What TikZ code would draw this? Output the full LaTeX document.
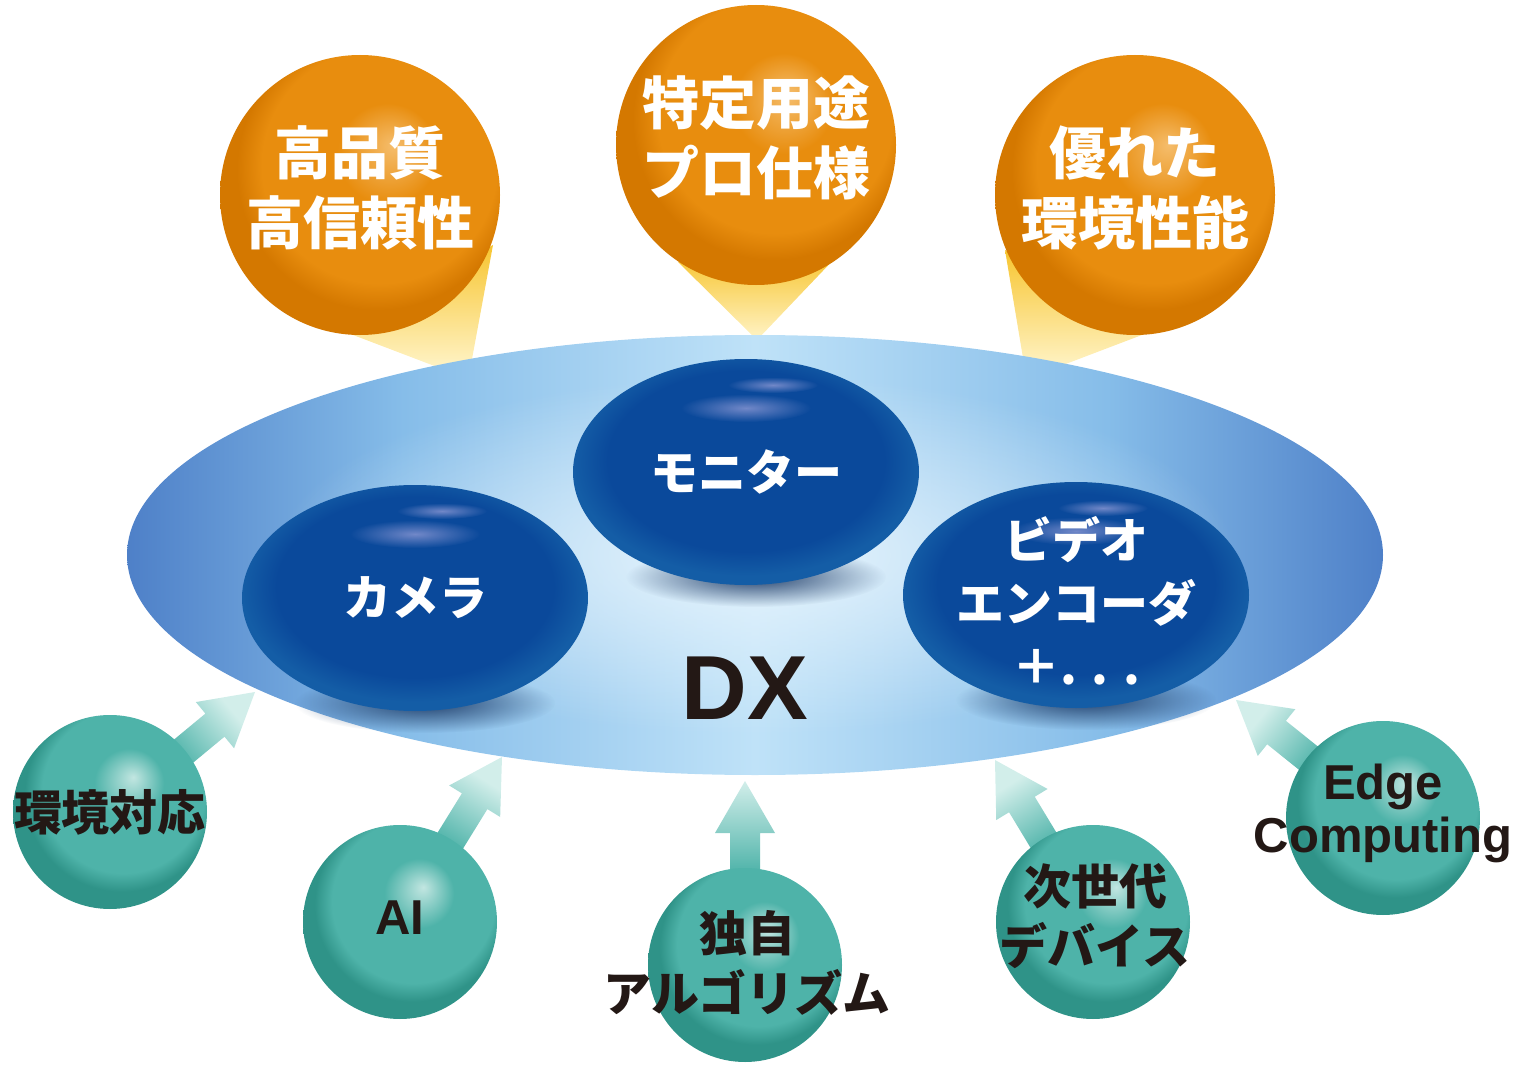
\documentclass[tikz,border=0pt]{standalone}
\usepackage{fontspec}
\usetikzlibrary{calc}
\usetikzlibrary{fadings}
\newfontfamily\jpfont{Noto Sans CJK JP}
\newfontfamily\enfont{Liberation Sans}
\def\OrangeRadius{140}
\def\BallRadius{97}
\def\PodXRadius{173}
\def\PodYRadius{113}
\def\DiskXRadius{628}
\def\DiskYRadius{220}

\definecolor{OrangeBody}{HTML}{E88D0E}
\definecolor{OrangeLight}{HTML}{F5BD6C}
\definecolor{OrangeEdge}{HTML}{D47800}
\definecolor{BeamDeep}{HTML}{F7C530}
\definecolor{BeamPale}{HTML}{FFF4C8}
\definecolor{DiskEnd}{HTML}{4E80C8}
\definecolor{DiskMid}{HTML}{86BDE9}
\definecolor{DiskCenter}{HTML}{BFE2F8}
\definecolor{DiskGlow}{HTML}{E6F4FD}
\definecolor{PodBody}{HTML}{0A499B}
\definecolor{PodRim}{HTML}{145DA6}
\definecolor{PodShine}{HTML}{8C98D4}
\definecolor{PodShadow}{HTML}{22406C}
\definecolor{TealBody}{HTML}{4EB3A9}
\definecolor{TealLight}{HTML}{C2E6E1}
\definecolor{TealEdge}{HTML}{2F9388}
\definecolor{ArrowTip}{HTML}{D2EEEA}
\definecolor{Ink}{HTML}{231815}

\pgfdeclareradialshading{orangeball}{\pgfpoint{6bp}{9bp}}{color(0bp)=(OrangeLight); color(9bp)=(OrangeBody); color(21bp)=(OrangeBody); color(25bp)=(OrangeEdge); color(50bp)=(OrangeEdge)}
\pgfdeclareradialshading{tealball}{\pgfpoint{6bp}{9bp}}{color(0bp)=(TealLight); color(9bp)=(TealBody); color(21bp)=(TealBody); color(25bp)=(TealEdge); color(50bp)=(TealEdge)}
\pgfdeclareradialshading{podshade}{\pgfpoint{0bp}{4bp}}{color(0bp)=(PodBody); color(20bp)=(PodBody); color(25bp)=(PodRim); color(50bp)=(PodRim)}
\pgfdeclarehorizontalshading{diskshade}{100bp}{color(0bp)=(DiskEnd); color(25bp)=(DiskEnd); color(36bp)=(DiskMid); color(50bp)=(DiskCenter); color(64bp)=(DiskMid); color(75bp)=(DiskEnd); color(100bp)=(DiskEnd)}
\tikzfading[name=soft blob, inner color=transparent!0, outer color=transparent!100]

\begin{document}
\begin{tikzpicture}[x=0.5pt,y=-0.5pt,
  orange label/.style={font=\jpfont\bfseries\fontsize{28.5}{35}\selectfont, text=white, align=center},
  pod label/.style={font=\jpfont\bfseries\fontsize{24}{31.5}\selectfont, text=white, align=center},
  ball label/.style={font=\jpfont\bfseries\fontsize{24}{30}\selectfont, text=Ink, align=center},
  ball latin/.style={font=\enfont\bfseries\fontsize{24.5}{26.5}\selectfont, text=Ink, align=center},
  beam/.style={top color=BeamDeep, bottom color=BeamPale},
  push/.style={top color=ArrowTip, bottom color=TealBody, middle color=TealBody}]
  \useasboundingbox (0,0) rectangle (1517,1065);
  \coordinate (O) at (755,555);
  \coordinate (Q1) at (360,195);
  \coordinate (Q2) at (756,145);
  \coordinate (Q3) at (1135,195);
  \coordinate (P1) at (415,598);
  \coordinate (P2) at (746,472);
  \coordinate (P3) at (1076,595);
  \coordinate (B1) at (110,812);
  \coordinate (B2) at (400,922);
  \coordinate (B3) at (745,965);
  \coordinate (B4) at (1093,922);
  \coordinate (B5) at (1383,818);
  \coordinate (T1) at (255,692);
  \coordinate (T2) at (502,757);
  \coordinate (T3) at (745,781);
  \coordinate (T4) at (995,760);
  \coordinate (T5) at (1236,700);
  % beams
  \shade[beam] (340,330) -- (445,370) -- (470,370) -- (493,245) -- cycle;
  \shade[beam] (678,262) -- (757,340) -- (838,255) -- cycle;
  \shade[beam] (1155,330) -- (1050,370) -- (1025,370) -- (1005,250) -- cycle;
  % disk
  \shade[shading=diskshade] (O) ellipse [x radius=\DiskXRadius, y radius=\DiskYRadius];
  \fill[DiskGlow, path fading=soft blob] (O) ellipse [x radius=480, y radius=180];
  % orange circles
  \foreach \q in {1,2,3}
    \shade[shading=orangeball] (Q\q) circle (\OrangeRadius);
  % pods
  \foreach \p in {1,2,3}
    {
      % shadow
      \fill[PodShadow, path fading=soft blob] ($(P\p)+(10,105)$) ellipse [x radius=130, y radius=30];
      \shade[shading=podshade] (P\p) ellipse [x radius=\PodXRadius, y radius=\PodYRadius];
      % shine
      \fill[PodShine, opacity=.8, path fading=soft blob] ($(P\p)+(27,-87)$) ellipse [x radius=45, y radius=8];
      \fill[PodShine, opacity=.8, path fading=soft blob] ($(P\p)+(0,-64)$) ellipse [x radius=65, y radius=14];
    }
  % arrows
  \foreach \i/\ang in {1/-50,2/-32,3/0,4/32,5/51}
    {
      \coordinate (H\i) at ($(T\i)!26pt!(B\i)$);
      \shade[push, shading angle=\ang] ($(B\i)!7.5pt!90:(T\i)$) -- ($(H\i)!7.5pt!90:(T\i)$)
        -- ($(H\i)!15pt!90:(T\i)$) -- (T\i) -- ($(H\i)!15pt!-90:(T\i)$)
        -- ($(H\i)!7.5pt!-90:(T\i)$) -- ($(B\i)!7.5pt!-90:(T\i)$) -- cycle;
    }
  % spheres
  \foreach \i in {1,...,5}
    \shade[shading=tealball] (B\i) circle (\BallRadius);
  % labels
  \node[orange label] (quality) at (360,188) {高品質\\高信頼性};
  \node[orange label] (purpose) at (756,138) {特定用途\\プロ仕様};
  \node[orange label] (climate) at (1135,188) {優れた\\環境性能};
  \node[pod label] (camera) at (P1) {カメラ};
  \node[pod label] (monitor) at (P2) {モニター};
  \node[pod label] (encoder) at ($(P3)+(0,6)$) {ビデオ\\エンコーダ\\＋. . .};
  \node[font=\enfont\bfseries\fontsize{45.5}{50}\selectfont, text=Ink] (dx) at (745,688) {DX};
  \node[ball label] (env) at (110,812) {環境対応};
  \node[ball latin] (ai) at (400,918) {AI};
  \node[ball label] (algo) at (747,963) {独自\\アルゴリズム};
  \node[ball label] (next) at (1095,916) {次世代\\デバイス};
  \node[ball latin] (edge) at (1383,813) {Edge\\Computing};
\end{tikzpicture}
\end{document}
